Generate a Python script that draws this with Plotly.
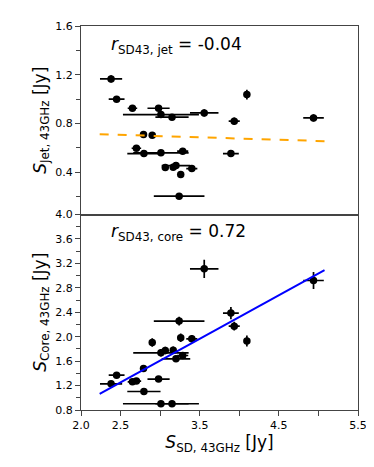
import plotly.graph_objects as go
from plotly.subplots import make_subplots

# single-dish 43 GHz flux (x) and errors, one entry per source
s_sd = [2.38, 2.45, 2.65, 2.70, 2.79, 2.795, 2.90, 2.98, 3.01, 3.01, 3.065, 3.15,
        3.165, 3.20, 3.24, 3.26, 3.285, 3.40, 3.557, 3.894, 3.936, 4.096, 4.938]
s_sd_err = [0.14, 0.10, 0.06, 0.06, 0.03, 0.21, 0.03, 0.14, 0.48, 0.35, 0.03, 0.21,
            0.03, 0.18, 0.32, 0.03, 0.07, 0.07, 0.18, 0.10, 0.07, 0.02, 0.13]

# jet flux at 43 GHz
s_jet = [1.166, 1.00, 0.925, 0.597, 0.709, 0.553, 0.704, 0.925, 0.873, 0.559, 0.439, 0.852,
         0.442, 0.455, 0.204, 0.381, 0.573, 0.43, 0.887, 0.553, 0.819, 1.037, 0.846]
s_jet_err = [0.03, 0.02, 0.02, 0.02, 0.02, 0.02, 0.02, 0.02, 0.02, 0.02, 0.02, 0.02,
             0.02, 0.02, 0.02, 0.02, 0.02, 0.02, 0.03, 0.02, 0.03, 0.04, 0.03]

# core flux at 43 GHz
s_core = [1.229, 1.37, 1.262, 1.273, 1.48, 1.103, 1.905, 1.306, 0.902, 1.736, 1.774, 0.902,
          1.78, 1.638, 2.255, 1.982, 1.692, 1.966, 3.111, 2.386, 2.173, 1.928, 2.92]
s_core_err = [0.04, 0.05, 0.04, 0.04, 0.05, 0.03, 0.07, 0.04, 0.03, 0.06, 0.06, 0.03,
              0.06, 0.05, 0.07, 0.07, 0.05, 0.06, 0.15, 0.10, 0.07, 0.09, 0.14]

# linear fits
fit_x = [2.236, 5.077]
jet_fit = [0.712, 0.655]
core_fit = [1.065, 3.09]

r_jet = "-0.04"
r_core = "0.72"

fig = make_subplots(rows=2, cols=1, shared_xaxes=True, vertical_spacing=0,
                    row_heights=[0.491, 0.509])

def err(a):
    return dict(type="data", array=a, color="black", thickness=1.7, width=0)

fig.add_trace(go.Scatter(x=s_sd, y=s_jet, mode="markers",
                         marker=dict(color="black", size=7.5),
                         error_x=err(s_sd_err), error_y=err(s_jet_err)), 1, 1)
fig.add_trace(go.Scatter(x=fit_x, y=jet_fit, mode="lines",
                         line=dict(color="orange", width=2, dash="dash")), 1, 1)

fig.add_trace(go.Scatter(x=s_sd, y=s_core, mode="markers",
                         marker=dict(color="black", size=7.5),
                         error_x=err(s_sd_err), error_y=err(s_core_err)), 2, 1)
fig.add_trace(go.Scatter(x=fit_x, y=core_fit, mode="lines",
                         line=dict(color="blue", width=2)), 2, 1)

font = "DejaVu Sans"
axcommon = dict(showline=True, linecolor="#444", linewidth=1, mirror=True,
                showgrid=False, zeroline=False, ticks="outside", ticklen=5,
                tickcolor="#444", tickfont=dict(family=font, size=11, color="black"))

xticks = [2.0, 2.5, 3.0, 3.5, 4.0, 4.5, 5.0, 5.5]
xlabels = ["2.0", "2.5", "", "3.5", "", "4.5", "", "5.5"]

fig.update_xaxes(range=[2.0, 5.5], tickvals=xticks, ticktext=xlabels, **axcommon)
fig.update_xaxes(ticks="", row=1, col=1)
fig.update_xaxes(title=dict(text="<i>S</i><sub>SD, 43GHz</sub> [Jy]",
                            font=dict(family=font, size=17, color="black"), standoff=3),
                 row=2, col=1)

fig.update_yaxes(**axcommon)
fig.update_yaxes(range=[0.053, 1.6], tickvals=[0.4, 0.8, 1.2, 1.6],
                 ticktext=["0.4", "0.8", "1.2", "1.6"],
                 minor=dict(tickvals=[0.2, 0.6, 1.0, 1.4], ticks="outside", ticklen=4,
                            tickcolor="#444"),
                 title=dict(text="<i>S</i><sub>Jet, 43GHz</sub> [Jy]",
                            font=dict(family=font, size=17, color="black"), standoff=4),
                 row=1, col=1)
fig.update_yaxes(range=[0.8, 4.0], dtick=0.4, tick0=0.8, tickformat=".1f",
                 minor=dict(dtick=0.2, tick0=0.8, ticks="outside", ticklen=4,
                            tickcolor="#444"),
                 title=dict(text="<i>S</i><sub>Core, 43GHz</sub> [Jy]",
                            font=dict(family=font, size=17, color="black"), standoff=4),
                 row=2, col=1)

fig.add_annotation(text="<i>r</i><sub>SD43, jet</sub> = " + r_jet, xref="paper", yref="paper",
                   x=0.1, y=0.95, xanchor="left", yanchor="middle", showarrow=False,
                   font=dict(family=font, size=17, color="black"))
fig.add_annotation(text="<i>r</i><sub>SD43, core</sub> = " + r_core, xref="paper", yref="paper",
                   x=0.1, y=0.462, xanchor="left", yanchor="middle", showarrow=False,
                   font=dict(family=font, size=17, color="black"))

fig.update_layout(width=374, height=467, showlegend=False,
                  plot_bgcolor="white", paper_bgcolor="white",
                  margin=dict(l=73, r=24, t=18, b=65),
                  font=dict(family=font))

fig.write_html("out.html")
